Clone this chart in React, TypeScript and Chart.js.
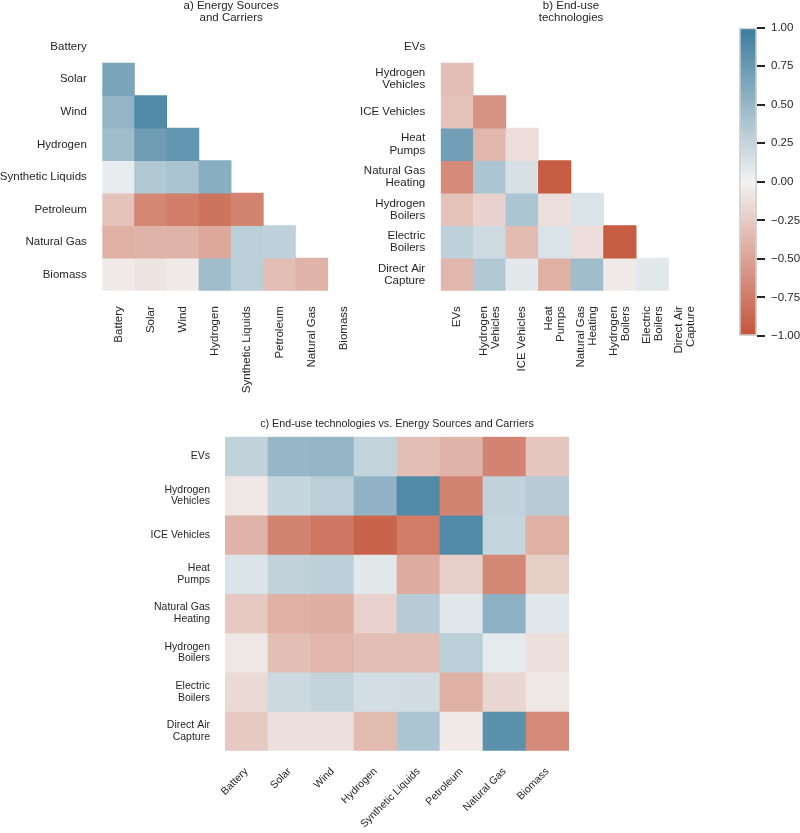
import React, { useEffect, useRef } from 'react';
import { Chart, registerables } from 'chart.js';

Chart.register(...registerables);

const FONT = '"Liberation Sans", Arial, Helvetica, sans-serif';
const TEXT = '#262626';

// ---------- data ----------
const energyLabels: string[] = ['Battery', 'Solar', 'Wind', 'Hydrogen', 'Synthetic Liquids', 'Petroleum', 'Natural Gas', 'Biomass'];

const enduseLabels: string[][] = [
  ['EVs'],
  ['Hydrogen', 'Vehicles'],
  ['ICE Vehicles'],
  ['Heat', 'Pumps'],
  ['Natural Gas', 'Heating'],
  ['Hydrogen', 'Boilers'],
  ['Electric', 'Boilers'],
  ['Direct Air', 'Capture'],
];

// a) lower triangle (row i has i values, columns 0..i-1)
const energyCorr: number[][] = [
  [],
  [0.66],
  [0.52, 0.88],
  [0.45, 0.72, 0.78],
  [0.05, 0.35, 0.4, 0.58],
  [-0.3, -0.68, -0.74, -0.8, -0.7],
  [-0.42, -0.4, -0.4, -0.47, 0.3, 0.28],
  [-0.05, -0.08, -0.05, 0.45, 0.3, -0.33, -0.4],
];

// b) lower triangle
const enduseCorr: number[][] = [
  [],
  [-0.33],
  [-0.3, -0.6],
  [0.7, -0.38, -0.13],
  [-0.65, 0.38, 0.15, -0.95],
  [-0.3, -0.2, 0.38, -0.12, 0.13],
  [0.28, 0.2, -0.35, 0.13, -0.13, -0.95],
  [-0.38, 0.35, 0.08, -0.42, 0.45, -0.05, 0.08],
];

// c) end-use (rows) vs energy (columns)
const crossCorr: number[][] = [
  [0.27, 0.5, 0.52, 0.26, -0.33, -0.4, -0.7, -0.28],
  [-0.07, 0.24, 0.3, 0.53, 0.88, -0.7, 0.27, 0.33],
  [-0.4, -0.7, -0.78, -0.9, -0.75, 0.88, 0.25, -0.42],
  [0.13, 0.27, 0.29, 0.09, -0.45, -0.22, -0.67, -0.23],
  [-0.26, -0.42, -0.43, -0.2, 0.33, 0.1, 0.55, 0.1],
  [-0.07, -0.33, -0.38, -0.33, -0.33, 0.3, 0.07, -0.12],
  [-0.15, 0.21, 0.26, 0.17, 0.18, -0.42, -0.18, -0.07],
  [-0.26, -0.12, -0.12, -0.35, 0.38, -0.06, 0.82, -0.65],
];

const colorbarRange: number[] = [-1, 1];
const colorbarStep = 0.25;

// ---------- colours ----------
const negColor = [196, 84, 57];
const midColor = [242, 242, 242];
const posColor = [59, 124, 157];

function colorFor(v: number): string {
  const t = Math.max(-1, Math.min(1, v));
  const end = t < 0 ? negColor : posColor;
  const a = Math.abs(t);
  const c = midColor.map((m, k) => Math.round(m + (end[k] - m) * a));
  return `rgb(${c[0]},${c[1]},${c[2]})`;
}

type Box = { left: number; top: number; width: number; height: number };
type Area = { left: number; top: number; right: number; bottom: number };

function titlePlugin(lines: string[], baselines: number[], size: number) {
  return {
    id: 'panelTitle',
    afterDraw(chart: any) {
      const { ctx, chartArea } = chart;
      ctx.save();
      ctx.font = `${size}px ${FONT}`;
      ctx.fillStyle = TEXT;
      ctx.textAlign = 'center';
      ctx.textBaseline = 'alphabetic';
      const cx = (chartArea.left + chartArea.right) / 2;
      lines.forEach((l, i) => ctx.fillText(l, cx, baselines[i]));
      ctx.restore();
    },
  };
}

// centre rotated multi-line x labels on their tick (matplotlib style)
const centerMultiline = {
  id: 'centerMultiline',
  beforeDraw(chart: any) {
    const s = chart.scales.x;
    if (!s) return;
    const items = s.getLabelItems();
    for (const it of items) {
      if (it._shifted) continue;
      if (Array.isArray(it.label) && it.label.length > 1) {
        const lh = it.font.lineHeight;
        const n = it.label.length;
        const tr = it.options.translation;
        it.options.translation = [tr[0] - (lh * (n - 1)) / 2, tr[1]];
      }
      it._shifted = true;
    }
  },
};

type HeatProps = {
  rowLabels: (string | string[])[];
  colLabels: (string | string[])[];
  values: number[][];
  triangle: boolean;
  box: Box;
  area: Area;
  fontSize: number;
  lineHeight: number;
  xRotation: number;
  xPadding: number;
  yPadding: number;
  title: string[];
  titleBaselines: number[];
  titleSize: number;
  centerX: boolean;
};

function Heatmap(p: HeatProps) {
  const ref = useRef<HTMLCanvasElement>(null);
  useEffect(() => {
    const { rowLabels, colLabels, values, triangle, box, area } = p;
    const font = { family: FONT, size: p.fontSize, lineHeight: p.lineHeight };
    const hidden = (i: number, j: number) => triangle && j >= i;
    const datasets = rowLabels.map((_, i) => ({
      data: colLabels.map((_, j) => (hidden(i, j) ? null : [i, i + 1])),
      backgroundColor: colLabels.map((_, j) => (hidden(i, j) ? 'rgba(0,0,0,0)' : colorFor(values[i][j]))),
      borderWidth: 0,
      grouped: false,
      barPercentage: 1,
      categoryPercentage: 1,
    }));
    const plugins: any[] = [titlePlugin(p.title, p.titleBaselines, p.titleSize)];
    if (p.centerX) plugins.push(centerMultiline);
    const chart = new Chart(ref.current as HTMLCanvasElement, {
      type: 'bar',
      data: { labels: colLabels as any, datasets: datasets as any },
      options: {
        animation: false,
        responsive: false,
        maintainAspectRatio: false,
        events: [],
        layout: {
          padding: {
            left: 0,
            top: area.top - box.top,
            right: box.left + box.width - area.right,
            bottom: 0,
          },
        },
        plugins: { legend: { display: false }, tooltip: { enabled: false }, title: { display: false } },
        scales: {
          x: {
            type: 'category',
            offset: true,
            grid: { display: false, drawTicks: false },
            border: { display: false },
            ticks: {
              autoSkip: false,
              maxRotation: p.xRotation,
              minRotation: p.xRotation,
              padding: p.xPadding,
              color: TEXT,
              font,
            },
            afterFit: (s: any) => {
              s.height = box.top + box.height - area.bottom;
            },
          },
          y: {
            type: 'linear',
            min: 0,
            max: rowLabels.length,
            reverse: true,
            grid: { display: false, drawTicks: false },
            border: { display: false },
            afterBuildTicks: (s: any) => {
              s.ticks = rowLabels.map((_, i) => ({ value: i + 0.5 }));
            },
            ticks: {
              autoSkip: false,
              padding: p.yPadding,
              color: TEXT,
              font,
              callback: (_v: any, idx: number) => rowLabels[idx] as any,
            },
            afterFit: (s: any) => {
              s.width = area.left - box.left;
            },
          },
        },
      } as any,
      plugins,
    });
    return () => chart.destroy();
  }, []);
  return (
    <canvas
      ref={ref}
      width={p.box.width}
      height={p.box.height}
      style={{ position: 'absolute', left: p.box.left, top: p.box.top, width: p.box.width, height: p.box.height }}
    />
  );
}

function Colorbar({ box, area }: { box: Box; area: Area }) {
  const ref = useRef<HTMLCanvasElement>(null);
  useEffect(() => {
    const chart = new Chart(ref.current as HTMLCanvasElement, {
      type: 'bar',
      data: {
        labels: [''],
        datasets: [
          {
            data: [[colorbarRange[0], colorbarRange[1]]] as any,
            backgroundColor: (c: any) => {
              const ca = c.chart.chartArea;
              if (!ca) return '#f2f2f2';
              const g = c.chart.ctx.createLinearGradient(0, ca.bottom, 0, ca.top);
              g.addColorStop(0, colorFor(-1));
              g.addColorStop(0.5, colorFor(0));
              g.addColorStop(1, colorFor(1));
              return g;
            },
            borderColor: '#d2d2d2',
            borderWidth: 2,
            borderSkipped: false,
            barPercentage: 1,
            categoryPercentage: 1,
          } as any,
        ],
      },
      options: {
        animation: false,
        responsive: false,
        maintainAspectRatio: false,
        events: [],
        layout: {
          padding: {
            left: area.left - box.left,
            top: area.top - box.top,
            right: 0,
            bottom: box.top + box.height - area.bottom,
          },
        },
        plugins: { legend: { display: false }, tooltip: { enabled: false } },
        scales: {
          x: { display: false, offset: true },
          y: {
            position: 'right',
            min: colorbarRange[0],
            max: colorbarRange[1],
            border: { display: false },
            grid: { display: true, drawOnChartArea: false, drawTicks: true, tickLength: 8, color: TEXT, lineWidth: 2 },
            ticks: {
              stepSize: colorbarStep,
              padding: 6,
              color: TEXT,
              font: { family: FONT, size: 11.5 },
              callback: (v: any) => {
                const n = Number(v);
                return (n < -1e-9 ? '\u2212' : '') + Math.abs(n).toFixed(2);
              },
            },
            afterFit: (s: any) => {
              s.width = box.left + box.width - area.right;
            },
          },
        },
      } as any,
    });
    return () => chart.destroy();
  }, []);
  return (
    <canvas
      ref={ref}
      width={box.width}
      height={box.height}
      style={{ position: 'absolute', left: box.left, top: box.top, width: box.width, height: box.height }}
    />
  );
}

export default function App() {
  return (
    <div style={{ position: 'absolute', left: 0, top: 0, width: 800, height: 833, background: '#ffffff', overflow: 'hidden' }}>
      <Heatmap
        rowLabels={energyLabels}
        colLabels={energyLabels}
        values={energyCorr}
        triangle={true}
        box={{ left: 0, top: 0, width: 372, height: 400 }}
        area={{ left: 102.3, top: 30.5, right: 362.9, bottom: 290.7 }}
        fontSize={11.5}
        lineHeight={1.05}
        xRotation={90}
        xPadding={15.5}
        yPadding={15.5}
        title={['a) Energy Sources', 'and Carriers']}
        titleBaselines={[8.8, 20.8]}
        titleSize={11.5}
        centerX={false}
      />
      <Heatmap
        rowLabels={enduseLabels}
        colLabels={enduseLabels}
        values={enduseCorr}
        triangle={true}
        box={{ left: 352, top: 0, width: 380, height: 400 }}
        area={{ left: 440.7, top: 30.5, right: 701.3, bottom: 290.7 }}
        fontSize={11.5}
        lineHeight={1.05}
        xRotation={90}
        xPadding={15.5}
        yPadding={15.5}
        title={['b) End-use', 'technologies']}
        titleBaselines={[8.8, 20.8]}
        titleSize={11.5}
        centerX={true}
      />
      <Heatmap
        rowLabels={enduseLabels}
        colLabels={energyLabels}
        values={crossCorr}
        triangle={false}
        box={{ left: 0, top: 390, width: 640, height: 443 }}
        area={{ left: 225, top: 436.7, right: 569, bottom: 750.7 }}
        fontSize={10.5}
        lineHeight={1.11}
        xRotation={45}
        xPadding={15}
        yPadding={15}
        title={['c) End-use technologies vs. Energy Sources and Carriers']}
        titleBaselines={[37.3]}
        titleSize={10.75}
        centerX={false}
      />
      <Colorbar box={{ left: 700, top: 0, width: 100, height: 360 }} area={{ left: 739, top: 27.7, right: 757, bottom: 336 }} />
    </div>
  );
}
